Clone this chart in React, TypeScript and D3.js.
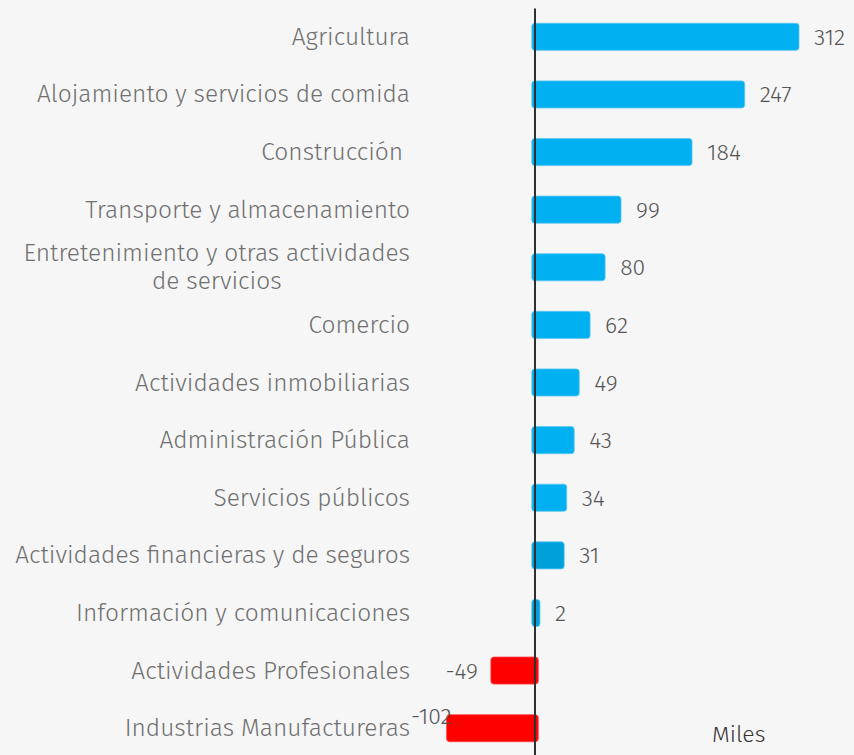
import React from "react";
import * as d3 from "d3";

const categories = [
  "Agricultura",
  "Alojamiento y servicios de comida",
  "Construcción ",
  "Transporte y almacenamiento",
  "Entretenimiento y otras actividades|de servicios",
  "Comercio",
  "Actividades inmobiliarias",
  "Administración Pública",
  "Servicios públicos",
  "Actividades financieras y de seguros",
  "Información y comunicaciones",
  "Actividades Profesionales",
  "Industrias Manufactureras",
];
const values = [312, 247, 184, 99, 80, 62, 49, 43, 34, 31, 2, -49, -102];
const darkerIdx = [9, 10];
const unitLabel = "Miles";

const W = 854;
const H = 755;
const FONT = "'Fira Sans', 'Open Sans', sans-serif";

function measure(text: string, size: number, weight: number) {
  const c = document.createElement("canvas").getContext("2d")!;
  c.font = `${weight} ${size}px 'Fira Sans', 'Open Sans', sans-serif`;
  return c.measureText(text).width;
}

export default function App() {
  const x = d3.scaleLinear().domain([0, 312]).range([538.3, 799]);
  const y = d3
    .scaleBand<string>()
    .domain(categories)
    .range([8, 757])
    .paddingInner(0.53)
    .paddingOuter(0.265);
  const x0 = x(0);
  const labelRight = 410;
  const catSize = 24.5;
  const catWeight = 300;
  const valSize = 23;
  const valWeight = 300;
  const catColor = "#707070";
  const valColor = "#555555";

  return (
    <svg
      width={W}
      height={H}
      style={{ position: "absolute", left: 0, top: 0, background: "#f6f6f6" }}
      fontFamily={FONT}
    >
      <rect width={W} height={H} fill="#f6f6f6" />
      {categories.map((c, i) => {
        const v = values[i];
        const yc = y(c)! + y.bandwidth() / 2;
        const xv = x(v);
        const left = Math.min(x0, xv) - 6.5;
        const right = Math.max(x0, xv);
        const fill = v < 0 ? "#ff0000" : darkerIdx.includes(i) ? "#00a0da" : "#00b0f0";
        const stroke = v < 0 ? "#ff4a4a" : "#5cc8f0";
        const lines = c.split("|");
        let catEl;
        if (lines.length > 1) {
          const w1 = measure(lines[0], catSize, catWeight);
          const cx = labelRight - w1 / 2;
          catEl = (
            <text fill={catColor} fontSize={catSize} fontWeight={catWeight} textAnchor="middle" style={{ whiteSpace: "pre" }}>
              <tspan x={cx} y={yc - 14 + 8}>{lines[0]}</tspan>
              <tspan x={cx} y={yc + 14 + 8}>{lines[1]}</tspan>
            </text>
          );
        } else {
          catEl = (
            <text
              x={labelRight}
              y={yc + 8}
              fill={catColor}
              fontSize={catSize}
              fontWeight={catWeight}
              textAnchor="end"
              style={{ whiteSpace: "pre" }}
            >
              {c}
            </text>
          );
        }
        const vText = String(v);
        let valEl;
        if (v >= 0) {
          valEl = (
            <text x={right + 15} y={yc + 8} fill={valColor} fontSize={valSize} fontWeight={valWeight}>
              {vText}
            </text>
          );
        } else {
          const tw = measure(vText, valSize, valWeight);
          const tx = left - 13;
          if (tx - tw < labelRight + 2) {
            valEl = (
              <text x={left + 5} y={yc - 4} fill={valColor} fontSize={valSize} fontWeight={valWeight} textAnchor="end">
                {vText}
              </text>
            );
          } else {
            valEl = (
              <text x={tx} y={yc + 8} fill={valColor} fontSize={valSize} fontWeight={valWeight} textAnchor="end">
                {vText}
              </text>
            );
          }
        }
        return (
          <g key={c}>
            {catEl}
            <rect
              x={left}
              y={y(c)!}
              width={right - left}
              height={y.bandwidth()}
              rx={3}
              fill={fill}
              stroke={stroke}
              strokeWidth={0.8}
            />
            {valEl}
          </g>
        );
      })}
      <line x1={535} x2={535} y1={8.5} y2={H} stroke="#303030" strokeWidth={2} />
      <text x={712} y={742} fill="#333" fontSize={23} fontWeight={300}>
        {unitLabel}
      </text>
    </svg>
  );
}
